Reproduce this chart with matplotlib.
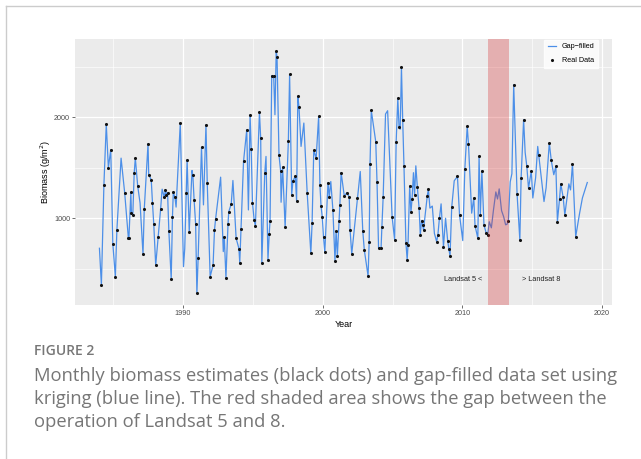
import numpy as np
import matplotlib.pyplot as plt
from matplotlib.lines import Line2D

# observed (Landsat) biomass estimates, decimal year / g m-2
real_year = [1984.15, 1984.33, 1984.50, 1984.65, 1984.82, 1984.97, 1985.15, 1985.26, 1985.82,
             1986.08, 1986.12, 1986.26, 1986.30, 1986.40, 1986.50, 1986.58, 1986.75, 1987.13,
             1987.22, 1987.49, 1987.54, 1987.72, 1987.81, 1987.90, 1988.04, 1988.22, 1988.39,
             1988.65, 1988.74, 1988.80, 1988.89, 1988.98, 1989.15, 1989.24, 1989.30, 1989.42,
             1989.80, 1990.23, 1990.29, 1990.44, 1990.70, 1990.79, 1990.90, 1990.99, 1991.08,
             1991.32, 1991.64, 1991.73, 1991.94, 1992.15, 1992.25, 1992.33, 1992.95, 1993.07,
             1993.22, 1993.27, 1993.45, 1993.80, 1994.00, 1994.06, 1994.15, 1994.33, 1994.56,
             1994.80, 1994.88, 1994.97, 1995.09, 1995.18, 1995.47, 1995.56, 1995.64, 1995.85,
             1996.08, 1996.17, 1996.23, 1996.35, 1996.49, 1996.67, 1996.73, 1996.87, 1996.99,
             1997.13, 1997.31, 1997.54, 1997.63, 1997.78, 1997.87, 1998.04, 1998.13, 1998.22,
             1998.30, 1998.89, 1999.15, 1999.24, 1999.36, 1999.53, 1999.71, 1999.80, 1999.88,
             1999.97, 2000.06, 2000.15, 2000.38, 2000.47, 2000.73, 2000.88, 2000.96, 2001.05,
             2001.17, 2001.23, 2001.32, 2001.55, 2001.73, 2001.90, 2001.96, 2002.08, 2002.49,
             2002.87, 2002.98, 2003.25, 2003.33, 2003.39, 2003.48, 2003.80, 2003.89, 2004.00,
             2004.18, 2004.24, 2004.33, 2004.97, 2005.15, 2005.26, 2005.38, 2005.47, 2005.64,
             2005.73, 2005.82, 2005.96, 2006.05, 2006.11, 2006.23, 2006.32, 2006.40, 2006.58,
             2006.78, 2006.90, 2006.99, 2007.08, 2007.16, 2007.22, 2007.49, 2007.57, 2008.16,
             2008.25, 2008.36, 2008.65, 2008.95, 2009.04, 2009.12, 2009.24, 2009.65, 2009.80,
             2010.18, 2010.35, 2010.44, 2010.82, 2010.91, 2011.11, 2011.20, 2011.29, 2011.40,
             2011.55, 2011.70, 2011.81, 2013.30, 2013.68, 2013.92, 2014.12, 2014.21, 2014.39,
             2014.62, 2014.74, 2014.94, 2015.47, 2016.23, 2016.37, 2016.70, 2016.81, 2016.96,
             2017.05, 2017.22, 2017.34, 2017.89, 2018.12]
real_val = [340, 1330, 1930, 1500, 1677, 746, 422, 885, 1248,
            808, 800, 1257, 1056, 1033, 1449, 1594, 1320, 644,
            1089, 1736, 1429, 1380, 1149, 944, 535, 818, 1089,
            1208, 1280, 1231, 1254, 878, 396, 1017, 1257, 1205,
            1941, 1254, 1578, 868, 1426, 1182, 941, 257, 611,
            1700, 1924, 1353, 422, 538, 884, 993, 818, 413,
            944, 1063, 1142, 802, 700, 561, 894, 1561, 1875,
            2023, 1683, 1155, 983, 924, 2046, 1789, 554, 1446,
            587, 845, 977, 2409, 2403, 2650, 2591, 1624, 1462,
            1505, 911, 1759, 2422, 1231, 1370, 1413, 1172, 2205,
            2102, 1248, 653, 950, 1670, 1594, 2007, 1330, 1122,
            1010, 812, 663, 1353, 1208, 1083, 581, 875, 627,
            974, 1135, 1452, 1215, 1254, 1208, 885, 647, 1195,
            875, 686, 429, 769, 1538, 2066, 1756, 1360, 710,
            703, 917, 1208, 1017, 785, 1749, 2185, 1898, 2492,
            1974, 1521, 759, 587, 736, 1320, 1059, 1188, 1231,
            1307, 1106, 835, 977, 937, 885, 1221, 1287, 769,
            835, 1000, 719, 779, 693, 627, 1109, 1413, 1033,
            1488, 1908, 1736, 1201, 927, 802, 1611, 1033, 1469,
            934, 858, 835, 977, 2320, 1241, 785, 1396, 1974,
            1512, 1297, 1469, 1627, 1743, 1571, 1512, 967, 1188,
            1340, 1208, 1033, 1538, 818]

# extra months of the kriged series that have no observation
fill_year = [1984.01, 1985.56, 1986.92, 1988.50, 1989.50, 1990.03, 1990.12, 1990.64, 1991.46,
             1992.69, 1992.88, 1993.57, 1993.66, 1994.68, 1995.94, 1996.58, 1997.02, 1998.45,
             1998.65, 2000.58, 2002.69, 2004.50, 2004.65, 2005.55, 2006.50, 2006.67, 2007.35,
             2007.68, 2007.85, 2008.00, 2008.48, 2008.80, 2009.42, 2010.03, 2010.67,
             2011.93, 2012.08, 2012.23, 2012.40, 2012.52, 2012.64, 2012.81, 2012.96, 2013.10,
             2013.20, 2013.43, 2013.55, 2014.50, 2015.05, 2015.25, 2015.40, 2015.85, 2016.00,
             2016.55, 2017.63, 2017.75, 2018.40, 2018.60, 2018.95]
fill_val = [703, 1594, 1150, 1287, 1110, 521, 700, 1472, 1132,
            1406, 670, 1373, 1150, 1082, 1611, 2023, 1158, 1710,
            1941, 1363, 1462, 2030, 2063, 1880, 1450, 1518, 1050,
            1100, 1120, 850, 1142, 1000, 1370, 779, 1050,
            965, 905, 1080, 1260, 1190, 1290, 1075, 1015, 935,
            940, 1360, 1440, 1650, 1200, 1400, 1710, 1165, 1300,
            1430, 1340, 1280, 1050, 1200, 1353]

gap_start, gap_end = 2011.84, 2013.32
year_ticks = [1990, 2000, 2010, 2020]
biomass_ticks = [1000, 2000]

caption_head = "FIGURE 2"
caption_lines = ["Monthly biomass estimates (black dots) and gap-filled data set using",
                 "kriging (blue line). The red shaded area shows the gap between the",
                 "operation of Landsat 5 and 8."]

plt.rcParams['font.family'] = ['Liberation Sans', 'DejaVu Sans']

# line = observations + filled months, in time order
line_year = np.array(real_year + fill_year)
line_val = np.array(real_val + fill_val)
order = np.argsort(line_year)

fig = plt.figure(figsize=(6.41, 4.59), dpi=100)
ax = fig.add_axes([75 / 641, 1 - 305 / 459, 537 / 641, 266 / 459])
ax.set_facecolor('#EBEBEB')

ax.plot(line_year[order], line_val[order], color='#4C8FE8', lw=0.9, zorder=3,
        label='Gap\u2212filled')
ax.scatter(real_year, real_val, s=5, color='#111111', zorder=4, linewidths=0,
           label='Real Data')
ax.axvspan(gap_start, gap_end, color='#D62728', alpha=0.3, lw=0, zorder=5)

ax.text(2011.4, 390, 'Landsat 5 <', ha='right', va='center', fontsize=5.3, color='#222222')
ax.text(2014.3, 390, '> Landsat 8', ha='left', va='center', fontsize=5.3, color='#222222')

ax.set_xlim(1982.26, 2020.72)
ax.set_ylim(142, 2772)
ax.set_xticks(year_ticks)
ax.set_xticks([1985, 1995, 2005, 2015], minor=True)
ax.set_yticks(biomass_ticks)
ax.set_yticks([500, 1500, 2500], minor=True)
ax.grid(True, which='major', color='white', lw=0.9, zorder=0)
ax.grid(True, which='minor', color='white', lw=0.45, zorder=0)
ax.set_axisbelow(True)
for s in ax.spines.values():
    s.set_visible(False)
ax.tick_params(which='major', length=2, width=0.5, color='#333333', labelsize=5.2,
               labelcolor='#4D4D4D', pad=1.5)
ax.tick_params(which='minor', length=0)
ax.set_xlabel('Year', fontsize=6.5, labelpad=2)
ax.set_ylabel('Biomass (g/m$^2$)', fontsize=6.5, labelpad=1)

leg = ax.legend(loc='upper right', bbox_to_anchor=(0.974, 0.997), fontsize=5.2,
                frameon=True, fancybox=False, borderaxespad=0, handlelength=1.1,
                handletextpad=0.8, borderpad=0.5, labelspacing=0.9, markerscale=1.0)
leg.get_frame().set_facecolor('white')
leg.get_frame().set_edgecolor('white')
leg.set_zorder(6)

# card border (top and left)
fig.add_artist(Line2D([6 / 641, 1], [1 - 6 / 459, 1 - 6 / 459], color='#CCCCCC', lw=1))
fig.add_artist(Line2D([6 / 641, 6 / 641], [0, 1 - 6 / 459], color='#CCCCCC', lw=1))

fig.text(34 / 641, 1 - 351 / 459, caption_head, fontsize=10, color='#777777',
         family=['Open Sans', 'DejaVu Sans'], va='center', weight='semibold')
for i, line in enumerate(caption_lines):
    fig.text(34 / 641, 1 - (376 + 23 * i) / 459, line, fontsize=13.2, color='#767676',
             family=['Open Sans', 'DejaVu Sans'], va='center')

fig.savefig('out.png', dpi=100)
